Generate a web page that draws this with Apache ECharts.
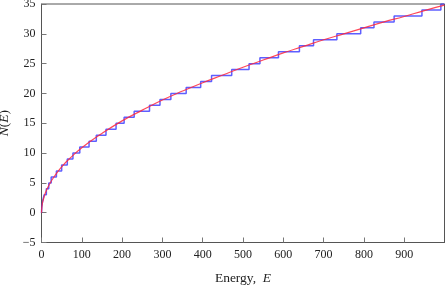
<!DOCTYPE html>
<html>
<head>
<meta charset="utf-8">
<script src="https://cdn.jsdelivr.net/npm/echarts@6/dist/echarts.min.js"></script>
<style>html,body{margin:0;padding:0;background:#fff}#c{width:446px;height:306px}</style>
</head>
<body>
<div id="c"></div>
<script>
// Eigenvalue positions (step locations) of the staircase N(E)
const stepEnergies = [0.8, 3, 6.5, 12, 18, 24, 37, 50, 64, 78, 95, 118, 136, 160, 185, 205, 230, 268, 294, 321, 359, 395, 422, 472, 515, 542, 588, 640, 675, 733, 792, 825, 875, 944, 991];
// Smooth (Weyl-type) curve
const smoothE = [0, 2, 5, 10, 20, 30, 50, 75, 100, 150, 200, 250, 300, 350, 400, 450, 500, 550, 600, 650, 700, 750, 800, 850, 900, 950, 1000];
const smoothN = [0, 1.5, 2.3, 3.4, 4.8, 5.9, 7.7, 9.4, 10.9, 13.3, 15.4, 17.2, 18.9, 20.4, 21.8, 23.1, 24.4, 25.6, 26.8, 27.9, 29.0, 30.0, 31.0, 32.0, 32.9, 33.9, 34.8];
const xTicks = [0, 100, 200, 300, 400, 500, 600, 700, 800, 900];
const yTicks = [-5, 0, 5, 10, 15, 20, 25, 30, 35];

const stairData = [[0, 0]];
stepEnergies.forEach((e, i) => stairData.push([e, i + 1]));
stairData.push([1000, stepEnergies.length]);
const smoothData = smoothE.map((e, i) => [e, smoothN[i]]);

const font = "'Liberation Serif', 'Times New Roman', serif";
const chart = echarts.init(document.getElementById('c'));
chart.setOption({
  animation: false,
  backgroundColor: '#fff',
  grid: { left: 41.5, right: 1.5, top: 4, bottom: 63.5, containLabel: false, outerBoundsMode: 'none',
    show: true, borderColor: '#555', borderWidth: 1, backgroundColor: 'transparent' },
  xAxis: {
    type: 'value', min: 0, max: 1000, interval: 100,
    name: '{r|Energy,  }{i|E}', nameLocation: 'middle', nameGap: 29,
    nameTextStyle: { fontFamily: font, fontSize: 13.5, color: '#222', verticalAlign: 'top',
      rich: { r: { fontFamily: font, fontSize: 13.5, color: '#222' }, i: { fontFamily: font, fontSize: 13.5, fontStyle: 'italic', color: '#222' } } },
    axisLine: { onZero: false, lineStyle: { color: '#555', width: 1 } },
    axisTick: { inside: true, length: 5, lineStyle: { color: '#777' } },
    axisLabel: { showMaxLabel: false, fontFamily: font, fontSize: 12, color: '#222', margin: 6,
      formatter: v => xTicks.includes(v) ? String(v) : '' },
    splitLine: { show: false }
  },
  yAxis: {
    type: 'value', min: -5, max: 35, interval: 5,
    name: '{i|N}{r|(}{i|E}{r|)}', nameLocation: 'middle', nameGap: 25, nameRotate: 90,
    nameTextStyle: { fontFamily: font, fontSize: 13.5, color: '#222',
      rich: { r: { fontFamily: font, fontSize: 13.5, color: '#222' }, i: { fontFamily: font, fontSize: 13.5, fontStyle: 'italic', color: '#222' } } },
    axisLine: { onZero: false, lineStyle: { color: '#555', width: 1 } },
    axisTick: { inside: true, length: 5, lineStyle: { color: '#777' } },
    axisLabel: { fontFamily: font, fontSize: 12, color: '#222', margin: 6,
      formatter: v => yTicks.includes(v) ? (v < 0 ? '\u2212' + Math.abs(v) : String(v)) : '' },
    splitLine: { show: false }
  },
  series: [
    { type: 'line', data: stairData, step: 'end', showSymbol: false,
      lineStyle: { color: 'rgba(40,40,255,0.75)', width: 1.5 }, z: 2 },
    { type: 'line', data: smoothData, smooth: true, showSymbol: false,
      lineStyle: { color: 'rgba(255,40,60,0.85)', width: 1.2 }, z: 3 }
  ]
});
</script>
</body>
</html>
